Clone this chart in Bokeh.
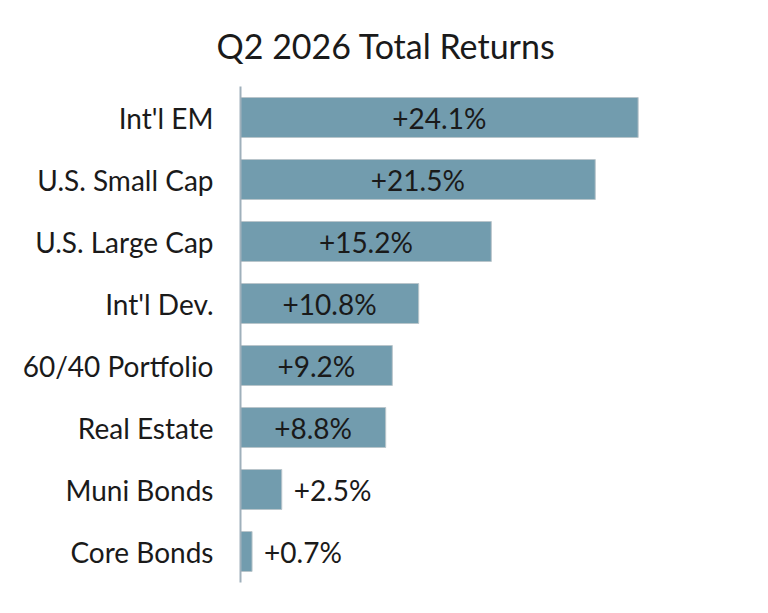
from bokeh.plotting import figure
from bokeh.models import ColumnDataSource, FactorRange, Range1d
from bokeh.core.properties import value
from bokeh.embed import file_html
from bokeh.resources import INLINE

categories = ["Int'l EM", "U.S. Small Cap", "U.S. Large Cap", "Int'l Dev.",
              "60/40 Portfolio", "Real Estate", "Muni Bonds", "Core Bonds"]
returns = [24.1, 21.5, 15.2, 10.8, 9.2, 8.8, 2.5, 0.7]
labels = ["+24.1%", "+21.5%", "+15.2%", "+10.8%", "+9.2%", "+8.8%", "+2.5%", "+0.7%"]

FONT = "Lato"
BAR = "#729cae"
TXT = "#1a1a1a"

src = ColumnDataSource(dict(cat=categories, val=returns, lab=labels))
inside = [v >= 5 for v in returns]
in_src = ColumnDataSource(dict(
    cat=[c for c, k in zip(categories, inside) if k],
    x=[v / 2 for v, k in zip(returns, inside) if k],
    lab=[l for l, k in zip(labels, inside) if k]))
out_src = ColumnDataSource(dict(
    cat=[c for c, k in zip(categories, inside) if not k],
    x=[v for v, k in zip(returns, inside) if not k],
    lab=[l for l, k in zip(labels, inside) if not k]))

p = figure(width=768, height=613, output_backend="svg", toolbar_location=None,
           y_range=FactorRange(*reversed(categories)), x_range=Range1d(0, 30),
           min_border_left=240, min_border_right=33, min_border_top=86,
           min_border_bottom=31, outline_line_color=None)

p.title.text = "Q2 2026 Total Returns"
p.title.text_font = FONT
p.title.text_font_size = "34px"
p.title.text_font_style = "normal"
p.title.text_color = TXT
p.title.align = "left"
p.title.offset = -24
p.title.standoff = 42

p.hbar(y="cat", right="val", left=0, height=0.645, source=src,
       fill_color=BAR, line_color="#b9c5cb", line_width=1)

p.text(x="x", y="cat", text="lab", source=in_src, text_font=value(FONT),
       text_font_size="28px", text_align="center", text_baseline="middle",
       text_color=TXT)
p.text(x="x", y="cat", text="lab", source=out_src, text_font=value(FONT),
       text_font_size="28px", text_align="left", text_baseline="middle",
       text_color=TXT, x_offset=12)

p.xaxis.visible = False
p.xgrid.visible = False
p.ygrid.visible = False
yax = p.yaxis[0]
yax.axis_line_color = "#9fb0bb"
yax.axis_line_width = 2
yax.major_tick_line_color = None
yax.minor_tick_line_color = None
yax.major_label_text_font = FONT
yax.major_label_text_font_size = "28px"
yax.major_label_text_color = TXT
yax.major_label_standoff = 21

open("out.html", "w").write(file_html(p, INLINE))
